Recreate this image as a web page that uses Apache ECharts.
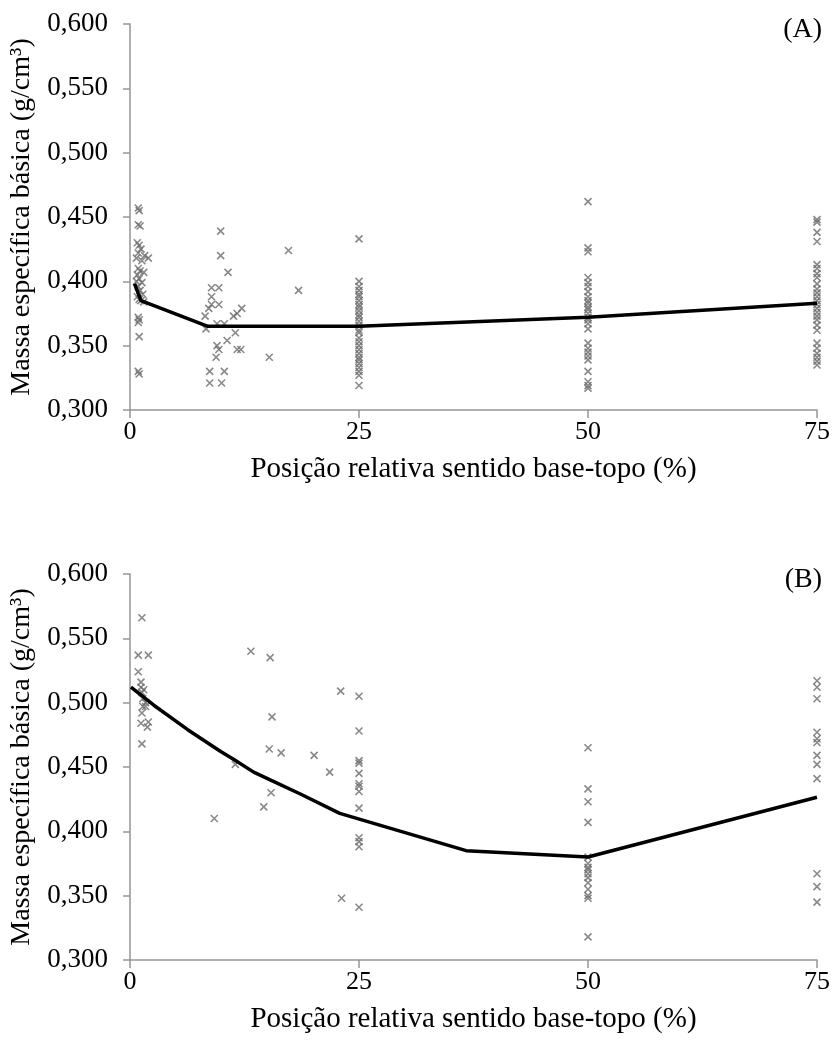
<!DOCTYPE html>
<html>
<head>
<meta charset="utf-8">
<script src="https://cdn.jsdelivr.net/npm/echarts@6/dist/echarts.min.js"></script>
<style>
  html, body { margin: 0; padding: 0; background: #fff; }
  #main { width: 833px; height: 1048px; }
</style>
</head>
<body>
<div id="main"></div>
<script>
// eixo x: posição relativa (%)
var xTicks = [0, 25, 50, 75];

// (A) pontos espalhados perto da base e em posições intermediárias
var pontosA_base = [
  [0.9,0.457],[1.0,0.455],[0.9,0.444],[1.1,0.443],[0.8,0.430],[1.0,0.428],[1.2,0.425],[0.9,0.422],
  [1.6,0.420],[0.7,0.418],[1.3,0.416],[2.0,0.418],[0.9,0.410],[1.1,0.408],[0.8,0.405],[1.5,0.407],
  [1.0,0.402],[0.7,0.400],[1.3,0.399],[0.9,0.396],[1.1,0.393],[1.4,0.390],[0.8,0.388],[1.0,0.386],
  [1.2,0.385],[1.5,0.384],[0.9,0.372],[1.0,0.370],[0.9,0.368],[1.0,0.357],[0.9,0.330],[1.0,0.328]
];
var pontosA_meio = [
  [9.9,0.439],[9.9,0.420],[10.7,0.407],[8.9,0.395],[9.7,0.395],[8.9,0.388],[8.9,0.382],[9.7,0.382],
  [8.6,0.379],[8.2,0.373],[11.7,0.375],[12.2,0.379],[11.3,0.373],[8.3,0.363],[9.5,0.367],[10.3,0.367],
  [11.5,0.360],[10.6,0.354],[9.5,0.350],[9.7,0.347],[11.7,0.347],[12.1,0.347],[9.4,0.341],[15.2,0.341],
  [8.7,0.330],[10.3,0.330],[8.7,0.321],[10.0,0.321],[17.3,0.424],[18.4,0.393]
];
// (A) colunas em 25, 50 e 75 %
var colA25 = [0.433,0.400,0.396,0.393,0.390,0.388,0.385,0.382,0.380,0.377,0.374,0.372,0.369,0.366,
  0.362,0.360,0.356,0.353,0.350,0.347,0.344,0.341,0.339,0.336,0.333,0.330,0.327,0.319];
var colA50 = [0.462,0.426,0.423,0.403,0.399,0.396,0.392,0.388,0.385,0.383,0.380,0.378,0.375,0.372,
  0.370,0.367,0.363,0.352,0.348,0.345,0.342,0.339,0.330,0.322,0.319,0.317];
var colA75 = [0.448,0.446,0.438,0.431,0.413,0.410,0.406,0.403,0.398,0.394,0.391,0.388,0.385,0.382,
  0.379,0.376,0.373,0.370,0.366,0.362,0.352,0.348,0.344,0.341,0.338,0.335];
// (A) curva ajustada
var curvaA = [[0.5,0.398],[1.2,0.385],[8.5,0.365],[25,0.365],[50,0.372],[75,0.383]];

// (B)
var pontosB_base = [
  [1.3,0.566],[0.9,0.537],[2.0,0.537],[0.9,0.524],[1.2,0.516],[1.2,0.512],[1.5,0.510],[1.3,0.508],
  [1.4,0.503],[1.7,0.500],[1.4,0.497],[1.7,0.497],[1.3,0.492],[1.2,0.484],[2.0,0.485],[1.9,0.481],[1.3,0.468]
];
var pontosB_meio = [
  [13.2,0.540],[15.3,0.535],[15.5,0.489],[15.2,0.464],[16.5,0.461],[20.1,0.459],[11.5,0.452],
  [21.8,0.446],[23.0,0.509],[23.1,0.348],[9.2,0.410],[14.6,0.419],[15.4,0.430]
];
var colB25 = [0.505,0.478,0.455,0.453,0.445,0.437,0.435,0.431,0.418,0.395,0.392,0.388,0.341];
var colB50 = [0.465,0.433,0.423,0.407,0.380,0.375,0.372,0.370,0.367,0.364,0.360,0.355,0.350,0.348,0.318];
var colB75 = [0.517,0.512,0.503,0.477,0.472,0.469,0.459,0.452,0.441,0.367,0.357,0.345];
var curvaB = [[0.1,0.512],[2.6,0.498],[6.3,0.479],[9.9,0.462],[11.3,0.456],[13.5,0.446],[15.3,0.440],
  [18.6,0.429],[22.9,0.414],[36.7,0.385],[50,0.380],[75,0.4265]];

var eixoCor = '#959595';
var pontoCor = '#6b6b6b';
var fonte = 'Liberation Serif';
var xis = 'path://M0,0L10,10M10,0L0,10';

function coluna(x, vals) {
  return vals.map(function (v) { return [x, v]; });
}

function eixoX(idx) {
  return {
    gridIndex: idx, type: 'value', min: 0, max: 75, interval: 25,
    name: 'Posição relativa sentido base-topo (%)',
    nameLocation: 'middle', nameGap: 45,
    nameTextStyle: { fontFamily: fonte, fontSize: 29, color: '#000' },
    axisLine: { lineStyle: { color: eixoCor, width: 1.5 } },
    axisTick: { show: true, length: 8, lineStyle: { color: eixoCor, width: 1.5 } },
    axisLabel: { fontFamily: fonte, fontSize: 26, color: '#000', margin: 9 },
    splitLine: { show: false }
  };
}
function eixoY(idx) {
  return {
    gridIndex: idx, type: 'value', min: 0.3, max: 0.6, interval: 0.05,
    name: 'Massa específica básica (g/cm³)',
    nameLocation: 'middle', nameGap: 94,
    nameTextStyle: { fontFamily: fonte, fontSize: 28, color: '#000' },
    axisLine: { show: true, lineStyle: { color: eixoCor, width: 1.5 } },
    axisTick: { show: true, length: 7, lineStyle: { color: eixoCor, width: 1.5 } },
    axisLabel: {
      fontFamily: fonte, fontSize: 27, color: '#000', margin: 22,
      formatter: function (v) { return v.toFixed(3).replace('.', ','); }
    },
    splitLine: { show: false }
  };
}
function pontos(idx, data) {
  return {
    type: 'scatter', xAxisIndex: idx, yAxisIndex: idx, data: data,
    symbol: xis, symbolSize: 7,
    itemStyle: { color: 'none', borderColor: pontoCor, borderWidth: 1.6 },
    silent: true, z: 2
  };
}
function curva(idx, data) {
  return {
    type: 'line', xAxisIndex: idx, yAxisIndex: idx, data: data,
    showSymbol: false, lineStyle: { color: '#000', width: 3.5 }, z: 3, silent: true
  };
}

var myChart = echarts.init(document.getElementById('main'));
myChart.setOption({
  animation: false,
  grid: [
    { left: 130, right: 14, top: 24, height: 386 },
    { left: 130, right: 14, top: 574, height: 386 }
  ],
  xAxis: [eixoX(0), eixoX(1)],
  yAxis: [eixoY(0), eixoY(1)],
  graphic: [
    { type: 'text', right: 11, top: 16, style: { text: '(A)', font: '28px "Liberation Serif"', fill: '#000' } },
    { type: 'text', right: 11, top: 566, style: { text: '(B)', font: '28px "Liberation Serif"', fill: '#000' } }
  ],
  series: [
    pontos(0, pontosA_base.concat(pontosA_meio, coluna(xTicks[1], colA25), coluna(xTicks[2], colA50), coluna(xTicks[3], colA75))),
    curva(0, curvaA),
    pontos(1, pontosB_base.concat(pontosB_meio, coluna(xTicks[1], colB25), coluna(xTicks[2], colB50), coluna(xTicks[3], colB75))),
    curva(1, curvaB)
  ]
});
</script>
</body>
</html>
